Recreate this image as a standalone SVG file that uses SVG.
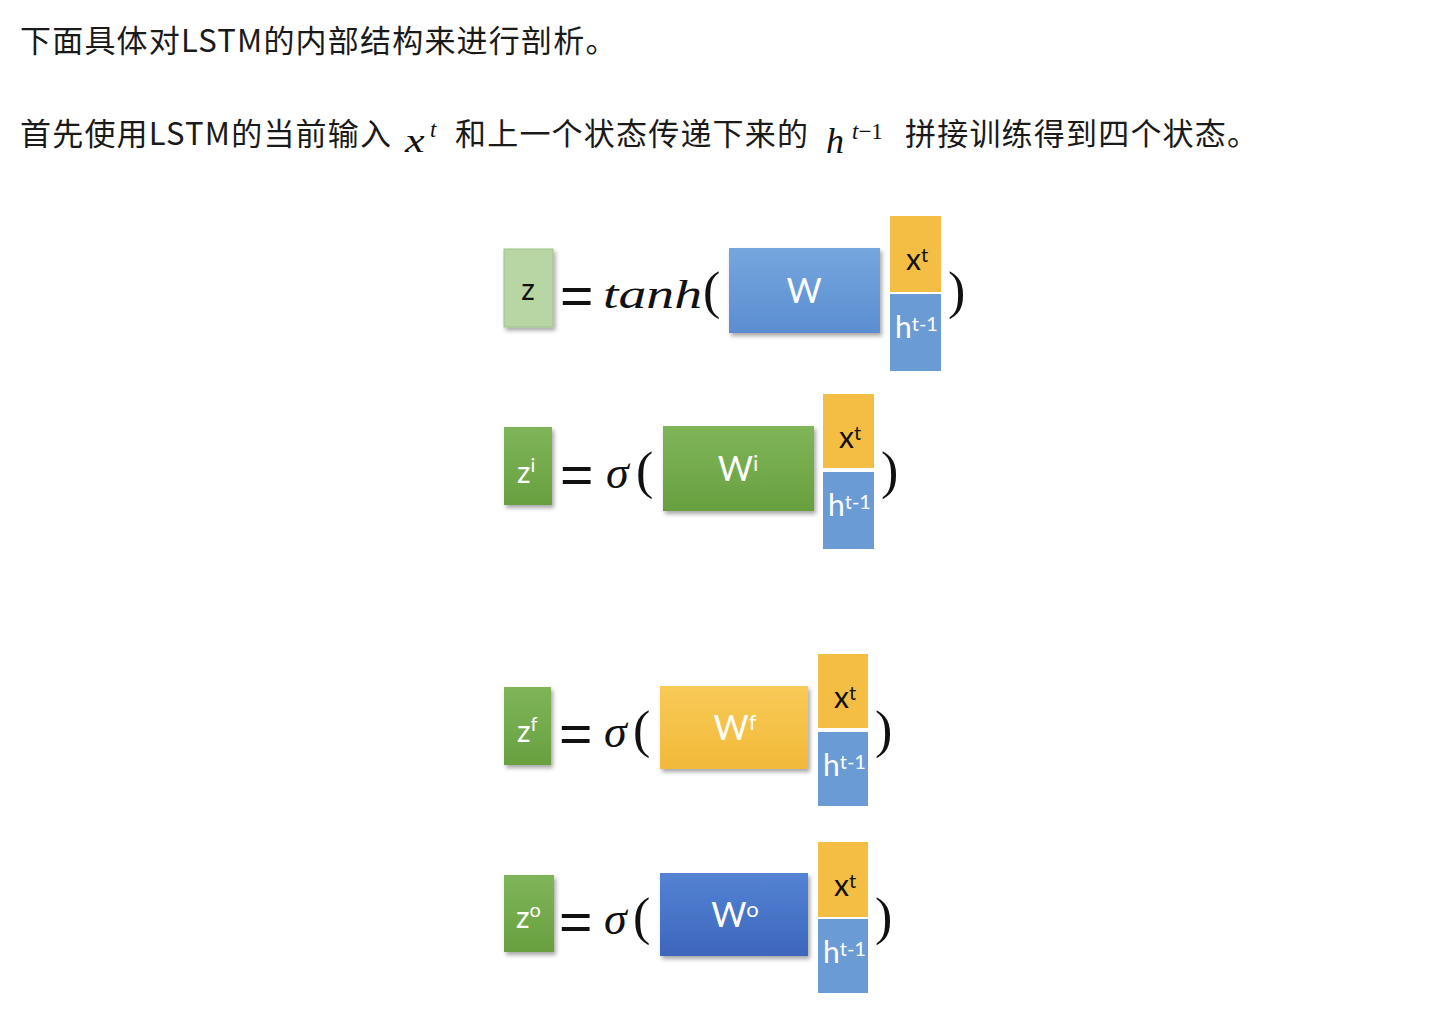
<svg xmlns="http://www.w3.org/2000/svg" width="1456" height="1026" viewBox="0 0 1456 1026">
<style>
.cjk{font-family:"Noto Sans CJK SC","Noto Sans",sans-serif;font-size:31px;letter-spacing:1.2px;fill:#1a1a1a}
.mi{font-family:"Liberation Serif",serif;font-style:italic;fill:#111}
.mr{font-family:"Liberation Serif",serif;font-style:normal;fill:#111}
.eq{font-family:"Liberation Sans",sans-serif;font-size:44px;fill:#111}
.lb{font-family:Lato,"Liberation Sans",sans-serif;fill:#fff}
.dk{fill:#111}
.xt{fill:#f4bd43}
.ht{fill:#6a9bd4}
</style>
<defs>
<filter id="sh" x="-10%" y="-10%" width="130%" height="140%">
<feDropShadow dx="2" dy="3" stdDeviation="2" flood-color="#000" flood-opacity="0.35"/>
</filter>
<linearGradient id="gB" x1="0" y1="0" x2="0" y2="1"><stop offset="0" stop-color="#76a6de"/><stop offset="1" stop-color="#5a8ed1"/></linearGradient>
<linearGradient id="gG" x1="0" y1="0" x2="0" y2="1"><stop offset="0" stop-color="#7fb559"/><stop offset="1" stop-color="#68a03f"/></linearGradient>
<linearGradient id="gO" x1="0" y1="0" x2="0" y2="1"><stop offset="0" stop-color="#f8ca56"/><stop offset="1" stop-color="#f2b93a"/></linearGradient>
<linearGradient id="gD" x1="0" y1="0" x2="0" y2="1"><stop offset="0" stop-color="#5483d4"/><stop offset="1" stop-color="#3d66bb"/></linearGradient>
</defs>
<rect width="1456" height="1026" fill="#fff"/>

<g id="text">
<text class="cjk" x="20" y="52">下面具体对LSTM的内部结构来进行剖析。</text>
<text class="cjk" x="20" y="145">首先使用LSTM的当前输入</text>
<text class="mi" transform="translate(405,152) scale(1.3,1)" font-size="34">x</text>
<text class="mi" x="430" y="137" font-size="23">t</text>
<text class="cjk" x="455" y="145">和上一个状态传递下来的</text>
<text class="mi" x="826" y="153" font-size="36">h<tspan font-size="23" x="852" y="139">t</tspan><tspan class="mr" font-size="23" font-style="normal">−1</tspan></text>
<text class="cjk" x="905" y="145">拼接训练得到四个状态。</text>
</g>

<g id="connectors"/>

<g id="eq-z">
<rect x="504" y="249" width="49" height="78" fill="#b8d6a4" stroke="#9ec287" stroke-width="1" filter="url(#sh)"/>
<text class="lb dk" x="528" y="300" font-size="30" text-anchor="middle">z</text>
<text class="eq" transform="translate(564,314) scale(1.3,1.2)" x="-3" y="0">=</text>
<text class="mi" x="603" y="308" font-size="40" textLength="99" lengthAdjust="spacingAndGlyphs">tanh</text>
<text class="mr" x="703" y="308" font-size="52">(</text>
<rect x="729" y="248" width="151" height="85" fill="url(#gB)" filter="url(#sh)"/>
<text class="lb" x="804" y="303" font-size="34" text-anchor="middle">W</text>
<rect class="xt" x="890" y="216" width="51" height="76"/>
<text class="lb dk" x="906" y="270" font-size="30">x<tspan font-size="20" dy="-8">t</tspan></text>
<rect class="ht" x="890" y="294" width="51" height="77"/>
<text class="lb" x="895" y="338" font-size="30">h<tspan font-size="20" dy="-7">t-1</tspan></text>
<text class="mr" x="948" y="308" font-size="52">)</text>
</g>

<g id="eq-zi">
<rect x="504" y="427" width="48" height="78" fill="url(#gG)" filter="url(#sh)"/>
<text class="lb" x="517" y="483" font-size="30">z<tspan font-size="20" dy="-11">i</tspan></text>
<text class="eq" transform="translate(564,493) scale(1.3,1.2)" x="-3" y="0">=</text>
<text class="mi" x="606" y="488" font-size="46">σ</text>
<text class="mr" x="636" y="488" font-size="52">(</text>
<rect x="663" y="426" width="151" height="85" fill="url(#gG)" filter="url(#sh)"/>
<text class="lb" x="738" y="481" font-size="34" text-anchor="middle">W<tspan font-size="22" dy="-10">i</tspan></text>
<rect class="xt" x="823" y="394" width="51" height="74"/>
<text class="lb dk" x="839" y="448" font-size="30">x<tspan font-size="20" dy="-8">t</tspan></text>
<rect class="ht" x="823" y="472" width="51" height="77"/>
<text class="lb" x="828" y="516" font-size="30">h<tspan font-size="20" dy="-7">t-1</tspan></text>
<text class="mr" x="881" y="488" font-size="52">)</text>
</g>

<g id="eq-zf">
<rect x="504" y="687" width="47" height="78" fill="url(#gG)" filter="url(#sh)"/>
<text class="lb" x="517" y="742" font-size="30">z<tspan font-size="20" dy="-11">f</tspan></text>
<text class="eq" transform="translate(563,752) scale(1.3,1.2)" x="-3" y="0">=</text>
<text class="mi" x="604" y="747" font-size="46">σ</text>
<text class="mr" x="633" y="747" font-size="52">(</text>
<rect x="660" y="686" width="148" height="83" fill="url(#gO)" filter="url(#sh)"/>
<text class="lb" x="735" y="740" font-size="34" text-anchor="middle">W<tspan font-size="22" dy="-10">f</tspan></text>
<rect class="xt" x="818" y="654" width="50" height="74"/>
<text class="lb dk" x="834" y="708" font-size="30">x<tspan font-size="20" dy="-8">t</tspan></text>
<rect class="ht" x="818" y="732" width="50" height="74"/>
<text class="lb" x="823" y="776" font-size="30">h<tspan font-size="20" dy="-7">t-1</tspan></text>
<text class="mr" x="875" y="747" font-size="52">)</text>
</g>

<g id="eq-zo">
<rect x="504" y="875" width="50" height="77" fill="url(#gG)" filter="url(#sh)"/>
<text class="lb" x="516" y="928" font-size="30">z<tspan font-size="20" dy="-11">o</tspan></text>
<text class="eq" transform="translate(563,940) scale(1.3,1.2)" x="-3" y="0">=</text>
<text class="mi" x="604" y="934" font-size="46">σ</text>
<text class="mr" x="633" y="934" font-size="52">(</text>
<rect x="660" y="873" width="148" height="83" fill="url(#gD)" filter="url(#sh)"/>
<text class="lb" x="735" y="927" font-size="34" text-anchor="middle">W<tspan font-size="22" dy="-10">o</tspan></text>
<rect class="xt" x="818" y="842" width="50" height="75"/>
<text class="lb dk" x="834" y="896" font-size="30">x<tspan font-size="20" dy="-8">t</tspan></text>
<rect class="ht" x="818" y="919" width="50" height="74"/>
<text class="lb" x="823" y="963" font-size="30">h<tspan font-size="20" dy="-7">t-1</tspan></text>
<text class="mr" x="875" y="934" font-size="52">)</text>
</g>
</svg>
